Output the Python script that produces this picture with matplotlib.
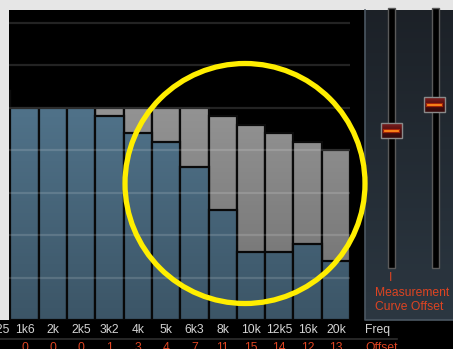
import matplotlib
matplotlib.use("Agg")
import matplotlib.pyplot as plt
import numpy as np
from matplotlib.patches import Rectangle, Circle

# band labels (first one is cut off at the left edge)
freqs = ["1k25", "1k6", "2k", "2k5", "3k2", "4k", "5k", "6k3", "8k", "10k", "12k5", "16k", "20k"]
# measurement curve level (dB above the floor)
measurement = [27, 25, 25, 25, 25, 25, 25, 25, 24, 23, 22, 21, 20]
# offset per band (the red row)
offsets = [0, 0, 0, 0, 1, 3, 4, 7, 11, 15, 14, 12, 13]

W, H = 453, 349
fig = plt.figure(figsize=(W / 100, H / 100), dpi=100)
fig.patch.set_facecolor("black")

def px(x0, y0, x1, y1):
    # pixel box (top-left origin) -> figure fraction rect
    return [x0 / W, 1 - y1 / H, (x1 - x0) / W, (y1 - y0) / H]

# ****** bar chart ******
ax = fig.add_axes(px(9, 10, 350, 320))
ax.set_facecolor("black")
pos = np.arange(len(freqs)) - 1
corrected = [m - o for m, o in zip(measurement, offsets)]

ax.bar(pos, measurement, width=1.0, color="#a4a4a4", edgecolor="#0c0c0c", linewidth=1.6, zorder=2)
ax.bar(pos, corrected, width=1.0, color="#597f99", edgecolor="#0c0c0c", linewidth=1.6, zorder=3)

ymax = 36.5
ax.set_xlim(-0.55, 11.5)
ax.set_ylim(0, ymax)

# darken towards the bottom
shade = np.zeros((200, 1, 4))
shade[:, 0, 3] = np.clip(np.linspace(0.33, -0.05, 200) * 1.0, 0, 1) * np.linspace(1, 0, 200) ** 0.0
a = np.linspace(0.33, 0.0, 200)
a[np.linspace(0, ymax, 200) > 25] = 0
shade[:, 0, 3] = a
ax.imshow(shade, extent=(-0.55, 11.5, 0, ymax), origin="lower", aspect="auto", zorder=4)

for g in range(5, 40, 5):
    ax.axhline(g, color="white", alpha=0.14, lw=1.6, zorder=5)

ax.set_xlim(-0.55, 11.5)
ax.set_ylim(0, ymax)
ax.axis("off")

# ****** overlay in pixel coords ******
ov = fig.add_axes([0, 0, 1, 1], zorder=10)
ov.set_xlim(0, W)
ov.set_ylim(H, 0)
ov.patch.set_alpha(0)
ov.axis("off")

# light gray frame around the screenshot
ov.add_patch(Rectangle((0, 0), W, 10, color="#e6e6e6", lw=0))
ov.add_patch(Rectangle((0, 0), 9, 320, color="#e6e6e6", lw=0))

# right panel with gradient
grad = np.linspace(0, 1, 100)[:, None]
top_c = np.array([0.11, 0.13, 0.155])
bot_c = np.array([0.17, 0.215, 0.255])
img = top_c + (bot_c - top_c) * grad[:, :, None]
ov.imshow(img, extent=(365, W, 320, 10), aspect="auto", zorder=1)
ov.plot([365, 365, W], [10, 320, 320], color="#4b5762", lw=1.2, zorder=2)

# slider tracks
for tx in (388, 432):
    ov.add_patch(Rectangle((tx, 8), 7, 260, facecolor="black", edgecolor="#5a5a5a", lw=1.0, zorder=3))

# slider knobs
for kx, ky in ((381, 123), (424, 97)):
    kimg = np.array([[0.45, 0.10, 0.10], [0.30, 0.05, 0.06], [0.22, 0.04, 0.05]])[:, None, :]
    ov.imshow(kimg, extent=(kx, kx + 21, ky + 15, ky), aspect="auto", interpolation="bilinear", zorder=4)
    ov.add_patch(Rectangle((kx, ky), 21, 15, facecolor="none", edgecolor="#8a8a8a", lw=1.0, zorder=5))
    ov.plot([kx + 4, kx + 17], [ky + 7.5, ky + 7.5], color="#ff3c00", lw=3, alpha=0.5, zorder=5)
    ov.plot([kx + 4, kx + 17], [ky + 7.5, ky + 7.5], color="#ff8a1a", lw=1.3, zorder=6)

red = "#dd4422"
font = dict(family="Liberation Sans", fontsize=8.7)
ov.text(391, 278, "I", color=red, ha="center", va="center", zorder=6, **font)
ov.text(412, 292.5, "Measurement", color=red, ha="center", va="center", zorder=6, **font)
ov.text(409, 307, "Curve Offset", color=red, ha="center", va="center", zorder=6, **font)

# bottom label rows
step = 341 / 12.05
for i, lab in enumerate(freqs):
    cx = 9 + (pos[i] + 0.55) * step
    ov.text(cx, 330, lab, color="#d4d4d4", ha="center", va="center", zorder=6, **font)
    if i > 0:
        ov.text(cx, 342, str(offsets[i]), color=red, ha="center", va="top", zorder=6, **font)
ov.text(365, 330, "Freq", color="#d4d4d4", ha="left", va="center", zorder=6, **font)
ov.text(365, 342, "Offset", color=red, ha="left", va="top", zorder=6, **font)
ov.plot([0, 397], [338.5, 338.5], color="#2e2e2e", lw=1.2, zorder=5)

# yellow highlight ring
ov.add_patch(Circle((245, 183.5), 120, facecolor="none", edgecolor="#ffee00", lw=3.8, zorder=8))

fig.savefig("out.png", dpi=100, facecolor=fig.get_facecolor())
